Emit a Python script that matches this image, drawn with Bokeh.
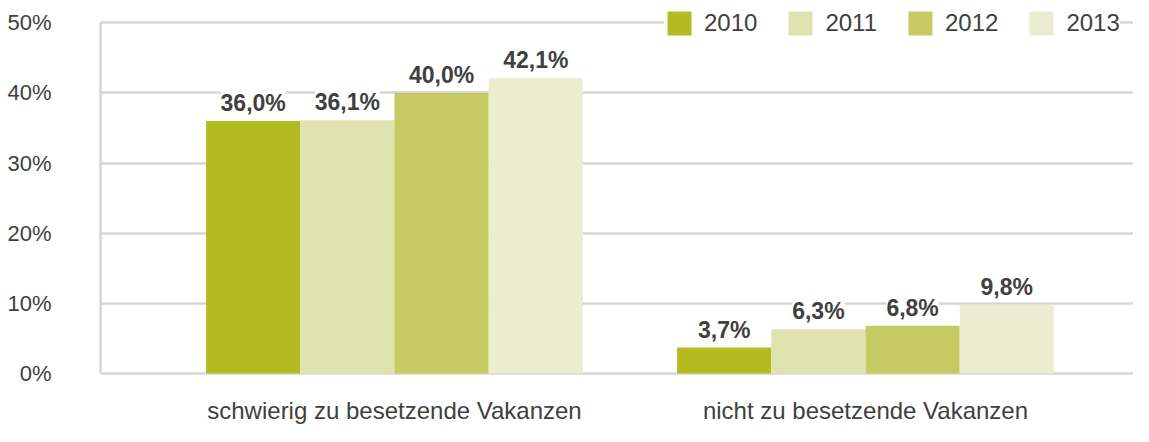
from bokeh.plotting import figure
from bokeh.models import (ColumnDataSource, Range1d, FixedTicker, PrintfTickFormatter,
                          Legend, LegendItem, LabelSet)
from bokeh.transform import dodge
from bokeh.core.properties import value
from bokeh.embed import file_html
from bokeh.resources import INLINE

# ---- data ----
categories = ["schwierig zu besetzende Vakanzen", "nicht zu besetzende Vakanzen"]
years = ["2010", "2011", "2012", "2013"]
values_2010 = [36.0, 3.7]
values_2011 = [36.1, 6.3]
values_2012 = [40.0, 6.8]
values_2013 = [42.1, 9.8]
y_ticks = [0, 10, 20, 30, 40, 50]

series = [values_2010, values_2011, values_2012, values_2013]
colors = ["#b3bb1f", "#dfe3b0", "#c5ca63", "#ebedd0"]
offsets = [-0.3, -0.1, 0.1, 0.3]
bar_width = 0.2

FONT = "Liberation Sans"
TEXT_COLOR = "#404040"
GRID_COLOR = "#d6d6d6"

p = figure(width=1133, height=426, output_backend="svg", toolbar_location=None,
           x_range=Range1d(-0.6242, 1.569), y_range=Range1d(-0.43, 53.19),
           min_border_left=100, min_border_right=0, min_border_top=0, min_border_bottom=48)
p.outline_line_color = None
p.background_fill_color = "white"
p.border_fill_color = "white"

xpos = list(range(len(categories)))
items = []
for yr, vals, col, off in zip(years, series, colors, offsets):
    src = ColumnDataSource(dict(
        x=xpos, y=vals,
        label=[("%.1f" % v).replace(".", ",") + "%" for v in vals]))
    r = p.vbar(x=dodge("x", off, range=p.x_range), top="y", width=bar_width, bottom=0,
               source=src, fill_color=col, line_color=None)
    items.append(LegendItem(label=yr, renderers=[r]))
    labels = LabelSet(x=dodge("x", off, range=p.x_range), y="y", text="label", source=src,
                      y_offset=10, text_align="center", text_baseline="alphabetic",
                      text_font=value(FONT), text_font_size="23px", text_font_style="bold",
                      text_color=TEXT_COLOR, background_fill_color="white",
                      background_fill_alpha=1.0)
    p.add_layout(labels)

# y axis
p.yaxis.ticker = FixedTicker(ticks=y_ticks)
p.yaxis.formatter = PrintfTickFormatter(format="%d%%")
p.yaxis.bounds = (0, 50)
p.yaxis.axis_line_color = GRID_COLOR
p.yaxis.axis_line_width = 2.5
p.yaxis.major_tick_line_color = None
p.yaxis.minor_tick_line_color = None
p.yaxis.major_tick_out = 0
p.yaxis.major_label_standoff = 49
p.yaxis.major_label_text_font = FONT
p.yaxis.major_label_text_font_size = "22px"
p.yaxis.major_label_text_color = TEXT_COLOR

# x axis
p.xaxis.ticker = FixedTicker(ticks=xpos)
p.xaxis.major_label_overrides = {i: c for i, c in enumerate(categories)}
p.xaxis.axis_line_color = None
p.xaxis.major_tick_line_color = None
p.xaxis.minor_tick_line_color = None
p.xaxis.major_tick_out = 0
p.xaxis.major_label_standoff = 20
p.xaxis.major_label_text_font = FONT
p.xaxis.major_label_text_font_size = "24px"
p.xaxis.major_label_text_color = TEXT_COLOR

# grid
p.xgrid.grid_line_color = None
p.ygrid.ticker = FixedTicker(ticks=y_ticks)
p.ygrid.grid_line_color = GRID_COLOR
p.ygrid.grid_line_width = 2.5

legend = Legend(items=items, orientation="horizontal", location=(564, 338),
                glyph_width=30, glyph_height=30, label_standoff=10, spacing=28,
                padding=8, margin=0, border_line_color=None,
                background_fill_color="white", background_fill_alpha=1.0,
                label_text_font=FONT, label_text_font_size="24px",
                label_text_color=TEXT_COLOR, label_height=30)
p.add_layout(legend)

open("out.html", "w").write(file_html(p, INLINE))
